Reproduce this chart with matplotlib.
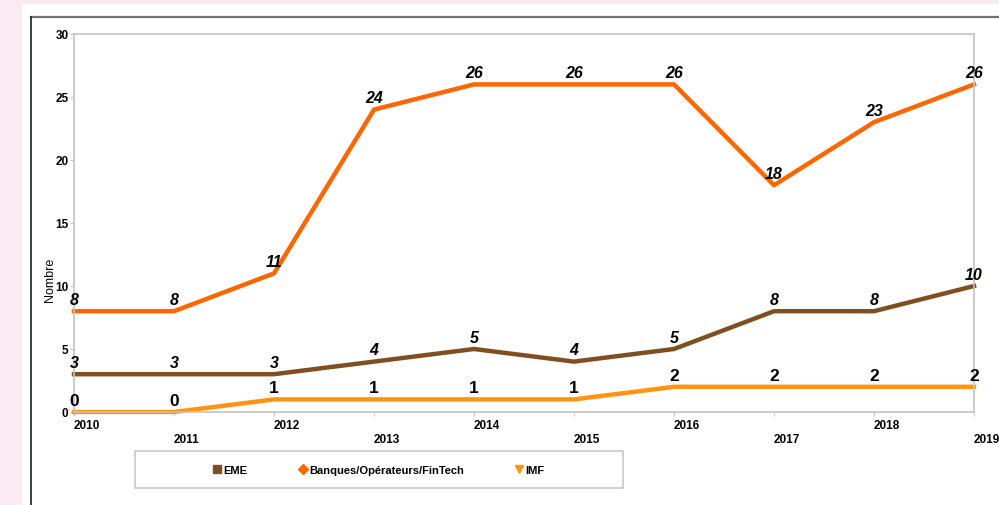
import matplotlib.pyplot as plt
from matplotlib.patches import Rectangle
from matplotlib.lines import Line2D

plt.rcParams['font.family'] = ['Liberation Sans', 'DejaVu Sans']

years = [2010, 2011, 2012, 2013, 2014, 2015, 2016, 2017, 2018, 2019]
eme = [3, 3, 3, 4, 5, 4, 5, 8, 8, 10]
banques = [8, 8, 11, 24, 26, 26, 26, 18, 23, 26]
imf = [0, 0, 1, 1, 1, 1, 2, 2, 2, 2]
series_names = ["EME", "Banques/Opérateurs/FinTech", "IMF"]

c_eme = "#7f4f1f"
c_banq = "#ff6600"
c_imf = "#ff9412"

W, H = 999, 506
fig = plt.figure(figsize=(W / 100, H / 100), dpi=100)
fig.patch.set_facecolor("#fbe9f3")

# white page area and chart frame
fig.patches.append(Rectangle((22 / W, 0), 1, 1 - 5 / H, transform=fig.transFigure,
                             facecolor="white", edgecolor="none", zorder=-5))
fig.lines.append(Line2D([31 / W, 1], [1 - 18 / H, 1 - 18 / H], transform=fig.transFigure,
                        color="#707070", lw=1.6, zorder=-4))
fig.lines.append(Line2D([31 / W, 31 / W], [0, 1 - 18 / H], transform=fig.transFigure,
                        color="#202020", lw=1.2, zorder=-4))
fig.patches.append(Rectangle((135 / W, 1 - 489 / H), 488 / W, 37 / H, transform=fig.transFigure,
                             facecolor="white", edgecolor="#c8c8c8", lw=1.2, zorder=-4))

ax = fig.add_axes([74 / W, 1 - 413 / H, 900 / W, 378 / H])
ax.set_zorder(2)
ax.set_facecolor("white")
for s in ax.spines.values():
    s.set_color("#c4c4c4")
    s.set_linewidth(1.2)

ax.plot(years, eme, color=c_eme, lw=3.2, clip_on=False)
ax.plot(years, banques, color=c_banq, lw=3.2, clip_on=False)
ax.plot(years, imf, color=c_imf, lw=3.2, clip_on=False)

for x, v in zip(years, eme):
    ax.annotate(str(v), (x, v), xytext=(0, 3), textcoords="offset points", ha="center",
                va="bottom", fontsize=11.5, fontweight="bold", fontstyle="italic")
for x, v in zip(years, banques):
    ax.annotate(str(v), (x, v), xytext=(0, 3), textcoords="offset points", ha="center",
                va="bottom", fontsize=11.5, fontweight="bold", fontstyle="italic")
for x, v in zip(years, imf):
    ax.annotate(str(v), (x, v), xytext=(0, 3), textcoords="offset points", ha="center",
                va="bottom", fontsize=12.5, fontweight="bold")

ax.set_xlim(2010, 2019)
ax.set_ylim(0, 30)
ax.set_yticks(range(0, 31, 5))
ax.set_xticks(years[::2])
ax.set_xticks(years[1::2], minor=True)
ax.set_xticklabels([str(y) for y in years[::2]], ha="left")
ax.set_xticklabels([str(y) for y in years[1::2]], minor=True, ha="left")
ax.tick_params(axis="x", which="both", length=3, color="#c4c4c4", labelsize=8.5)
ax.tick_params(axis="x", which="major", pad=2)
ax.tick_params(axis="x", which="minor", pad=12)
ax.tick_params(axis="y", length=3, color="#c4c4c4", labelsize=8.5, pad=1)
for lbl in ax.get_xticklabels(which="both") + ax.get_yticklabels():
    lbl.set_fontweight("bold")
    lbl.set_clip_on(False)
ax.set_ylabel("Nombre", fontsize=9)
ax.yaxis.set_label_coords(-0.02, 0.352)

# legend
handles = [Line2D([], [], ls="none", marker="s", color=c_eme, markersize=6),
           Line2D([], [], ls="none", marker="D", color=c_banq, markersize=5),
           Line2D([], [], ls="none", marker="v", color=c_imf, markersize=6)]
leg = fig.legend(handles, series_names, loc="center", bbox_to_anchor=(379 / W, 1 - 471 / H),
                 ncol=3, frameon=False, handlelength=0.7, handletextpad=0.2,
                 columnspacing=4.65, prop={"weight": "bold", "size": 8})

fig.savefig("out.png", dpi=100)
